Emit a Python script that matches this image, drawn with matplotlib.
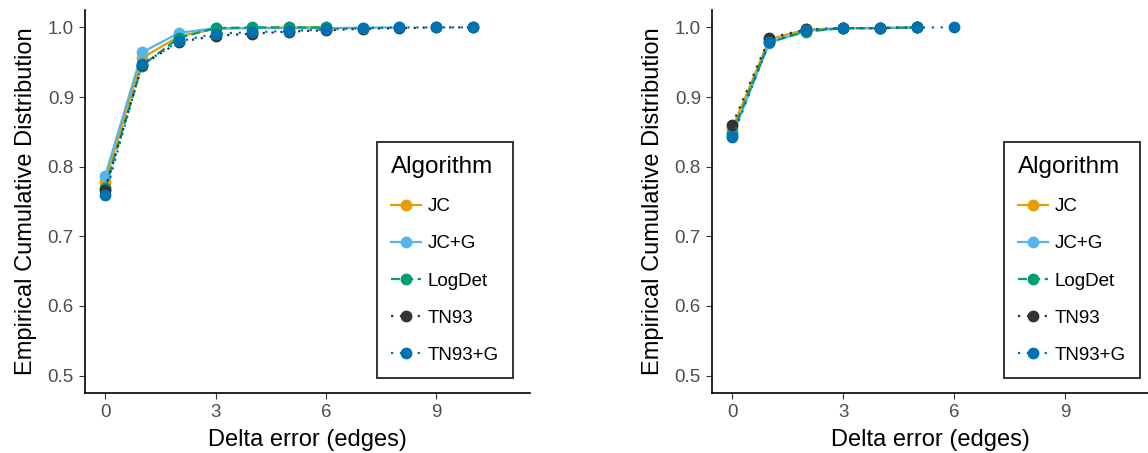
import matplotlib
matplotlib.use("Agg")
import matplotlib.pyplot as plt

plt.rcParams['font.family'] = ['Liberation Sans', 'DejaVu Sans']

algorithms = ["JC", "JC+G", "LogDet", "TN93", "TN93+G"]
colors = ["#E69F00", "#56B4E9", "#009E73", "#333333", "#0072B2"]
styles = ["-", "-", (0, (4, 2)), (0, (1, 3)), (0, (1, 3))]

# left panel: delta error and ecdf per algorithm
left_x = {
    "JC": [0, 1, 2, 3, 4, 5, 6],
    "JC+G": [0, 1, 2, 3, 4, 5, 6, 7, 8],
    "LogDet": [0, 1, 2, 3, 4, 5, 6],
    "TN93": [0, 1, 2, 3, 4, 5, 6, 7, 8, 9, 10],
    "TN93+G": [0, 1, 2, 3, 4, 5, 6, 7, 8, 9, 10],
}
left_y = {
    "JC": [0.778, 0.956, 0.987, 0.998, 0.999, 1.0, 1.0],
    "JC+G": [0.787, 0.964, 0.992, 0.999, 0.999, 0.999, 0.999, 0.9995, 1.0],
    "LogDet": [0.770, 0.945, 0.985, 0.999, 1.0, 1.0, 1.0],
    "TN93": [0.767, 0.946, 0.979, 0.988, 0.991, 0.994, 0.996, 0.998, 0.999, 1.0, 1.0],
    "TN93+G": [0.759, 0.947, 0.980, 0.991, 0.993, 0.995, 0.997, 0.999, 1.0, 1.0, 1.0],
}

# right panel
right_x = {
    "JC": [0, 1, 2, 3, 4, 5],
    "JC+G": [0, 1, 2, 3, 4, 5],
    "LogDet": [0, 1, 2, 3, 4, 5],
    "TN93": [0, 1, 2, 3, 4, 5],
    "TN93+G": [0, 1, 2, 3, 4, 5, 6],
}
right_y = {
    "JC": [0.855, 0.983, 0.997, 0.999, 0.999, 1.0],
    "JC+G": [0.845, 0.978, 0.995, 0.999, 0.999, 1.0],
    "LogDet": [0.848, 0.979, 0.994, 0.999, 0.999, 1.0],
    "TN93": [0.860, 0.985, 0.997, 0.999, 0.999, 1.0],
    "TN93+G": [0.842, 0.979, 0.996, 0.999, 0.999, 1.0, 1.0],
}

W, H = 1148, 453
fig = plt.figure(figsize=(W / 100, H / 100), dpi=100)
ax1 = fig.add_axes([85 / W, 1 - 393 / H, 445 / W, 383 / H])
ax2 = fig.add_axes([712 / W, 1 - 393 / H, 436 / W, 383 / H])


def draw(ax, xs, ys, xmax, leg_corner):
    for name, c, ls in zip(algorithms, colors, styles):
        ax.plot(xs[name], ys[name], color=c, linestyle=ls, linewidth=1.6,
                marker="o", markersize=7.5, label=name)
    ax.set_xlim(-0.55, xmax)
    ax.set_ylim(0.475, 1.025)
    ax.set_xticks([0, 3, 6, 9])
    ax.set_yticks([0.5, 0.6, 0.7, 0.8, 0.9, 1.0])
    ax.set_yticklabels(["0.5", "0.6", "0.7", "0.8", "0.9", "1.0"])
    ax.spines['top'].set_visible(False)
    ax.spines['right'].set_visible(False)
    ax.spines['left'].set_linewidth(1.2)
    ax.spines['bottom'].set_linewidth(1.2)
    ax.tick_params(colors="#333333", labelcolor="#4d4d4d", labelsize=13.5,
                   length=4, width=0.8, pad=4)
    ax.set_xlabel("Delta error (edges)", fontsize=17, labelpad=6)
    ax.set_ylabel("Empirical Cumulative Distribution", fontsize=17, labelpad=8)
    leg = ax.legend(title="Algorithm", loc="lower right", bbox_to_anchor=leg_corner,
                    bbox_transform=fig.transFigure,
                    fontsize=13.5, title_fontsize=17.5, frameon=True, fancybox=False,
                    edgecolor="black", handlelength=1.6, labelspacing=1.07,
                    borderpad=0.75, handletextpad=0.35, borderaxespad=0)
    leg._legend_box.align = "left"
    leg.get_frame().set_linewidth(1.4)


draw(ax1, left_x, left_y, 11.55, (513 / W, 1 - 378 / H))
draw(ax2, right_x, right_y, 11.24, (1140 / W, 1 - 378 / H))

fig.savefig("out.png", dpi=100)
